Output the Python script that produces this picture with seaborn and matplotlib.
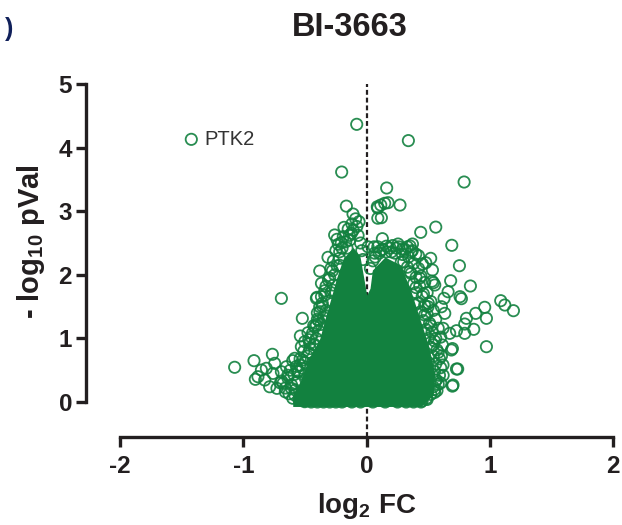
import matplotlib
matplotlib.use("Agg")
import matplotlib.pyplot as plt
import seaborn as sns

sns.set_theme(style="ticks")
plt.rcParams["font.family"] = ["Liberation Sans", "DejaVu Sans"]
plt.rcParams["mathtext.fontset"] = "custom"
plt.rcParams["mathtext.bf"] = "Liberation Sans:bold"
plt.rcParams["mathtext.rm"] = "Liberation Sans:bold"

GREEN = "#12813f"
DARK = "#231f20"

# outline of the overplotted core, where the rings merge into solid colour
core_fc = [-0.60, -0.60, -0.54, -0.47, -0.38, -0.345, -0.29, -0.245, -0.19, -0.11, -0.054, -0.028,
           0.0, 0.027, 0.046, 0.148, 0.275, 0.36, 0.43, 0.50, 0.55, 0.54, 0.44]
core_top = [-0.07, 0.11, 0.319, 0.687, 1.0, 1.263, 1.63, 1.945, 2.26, 2.43, 2.285, 1.997,
            1.682, 1.788, 2.075, 2.28, 2.154, 1.735, 1.316, 0.896, 0.476, 0.11, -0.07]

# single proteins that can still be told apart
log2_fc = [
    -1.4225, -0.081, 0.338, -0.203, 0.79, 0.162, 0.27, 0.173, 0.146, 0.114, 0.086, 0.119,
    -0.165, -0.111, -0.062, 0.56, 0.438, 0.69, 0.127, 0.752, 0.841, 0.681, 1.087, 1.12,
    1.19, 0.957, 0.884, 0.971, 0.971, 0.809, 0.868, 0.795, 0.795, 0.728, 0.673, 0.687,
    0.695, 0.738, 0.728, 0.70, 0.695, 0.66, 0.627, 0.757, 0.768, 0.541, 0.552, 0.53,
    0.533, 0.519, 0.452, 0.479, 0.398, 0.371, 0.351, 0.254, 0.619, 0.614, 0.606, 0.619,
    0.565, 0.551, 0.484, 0.633, 0.497, 0.389, 0.47, 0.606, 0.43, 0.46, 0.50, 0.40,
    0.35, 0.30, 0.42, 0.37, 0.33, 0.29, 0.21, 0.16, 0.11, 0.06, 0.2, 0.24, 0.47, 0.52,
    0.56, 0.58, 0.54, 0.50, 0.62, 0.58, 0.55, 0.47,
    -0.184, -0.26, -0.241, -0.206, -0.124, -0.138, -0.314, -0.381, -0.367, -0.403, -0.367,
    -0.362, -0.278, -0.278, -0.219, 0.011, 0.065, 0.09, 0.09, 0.09, -0.16, -0.22, -0.30,
    -0.33, -0.34, -0.40, -0.43, -0.45, -0.39,
    -0.692, -0.522, -0.538, -0.476, -0.408, -0.408, -0.381, -1.071, -0.914, -0.765, -0.584,
    -0.60, -0.903, -0.882, -0.854, -0.814, -0.746, -0.827, -0.787, -0.728, -0.76, -0.692,
    -0.651, -0.679, -0.611, -0.584, -0.503, -0.543, -0.53, -0.462, -0.503, -0.70, -0.64,
    -0.66, -0.58, -0.56, -0.52, -0.50, -0.47, -0.45, -0.44, -0.42, -0.48, -0.55, -0.50,
    -0.45, -0.40, -0.35, -0.30, -0.25, -0.20, -0.12, -0.05, 0.05, 0.15, 0.25, 0.32, 0.38, 0.44,
]
minus_log10_p = [
    4.13, 4.366, 4.11, 3.616, 3.459, 3.365, 3.097, 3.134, 3.124, 3.097, 3.07, 2.898,
    3.08, 2.956, 2.835, 2.75, 2.668, 2.464, 2.568, 2.143, 1.824, 1.907, 1.593, 1.525,
    1.436, 1.489, 1.394, 1.316, 0.87, 1.316, 1.143, 1.226, 1.08, 1.121, 1.08, 0.818,
    0.84, 0.519, 0.519, 0.267, 0.25, 1.734, 1.63, 1.656, 1.625, 1.876, 1.84, 1.9,
    2.075, 2.259, 2.17, 2.19, 2.327, 2.484, 2.453, 2.484, 1.159, 0.896, 0.723, 0.582,
    0.346, 0.2, 0.058, 1.394, 1.498, 1.525, 1.368, 1.498, 1.95, 1.7, 1.55, 1.8,
    2.05, 2.2, 2.3, 2.38, 2.44, 2.4, 2.46, 2.45, 2.38, 2.44, 2.36, 2.42, 1.08, 1.2,
    1.0, 0.78, 0.9, 0.62, 0.42, 0.28, 0.15, 0.3,
    2.746, 2.626, 2.558, 2.505, 2.652, 2.547, 2.275, 2.06, 1.866, 1.646, 1.656,
    1.51, 2.064, 1.76, 2.363, 2.44, 2.34, 2.44, 3.05, 2.89, 2.42, 2.15, 1.95,
    1.35, 1.75, 1.4, 1.2, 1.02, 1.28,
    1.63, 1.316, 1.038, 1.09, 1.21, 1.63, 1.498, 0.546, 0.65, 0.75, 0.687,
    0.65, 0.357, 0.398, 0.503, 0.53, 0.608, 0.346, 0.24, 0.215, 0.45, 0.476,
    0.555, 0.294, 0.215, 0.11, 0.005, 0.58, 0.87, 0.92, 0.948, 0.3, 0.42,
    0.16, 0.3, 0.48, 0.66, 0.42, 0.78, 0.3, 0.62, 0.9, 0.12, 0.04, 0.02,
    0.0, 0.0, 0.0, 0.0, 0.0, 0.0, 0.0, 0.0, 0.0, 0.0, 0.0, 0.0, 0.0, 0.0,
]

# crowded rim of the core, left flank then right flank
rim_fc = [
    -0.60, -0.63, -0.58, -0.66, -0.61, -0.56, -0.69, -0.64, -0.59, -0.55, -0.62, -0.57, -0.52, -0.50,
    -0.54, -0.48, -0.51, -0.46, -0.43, -0.47, -0.41, -0.44, -0.39, -0.42, -0.37, -0.40, -0.35, -0.38,
    -0.33, -0.36, -0.31, -0.34, -0.29, -0.33, -0.27, -0.31, -0.26, -0.29, -0.24, -0.27, -0.22, -0.25,
    -0.20, -0.23, -0.17, -0.19, -0.14, -0.15, -0.11, -0.12, -0.08, -0.09, -0.07, -0.05, -0.04, -0.03,
    0.03, 0.05, 0.07, 0.10, 0.13, 0.16, 0.19, 0.23, 0.26, 0.29, 0.31, 0.34, 0.36, 0.28,
    0.33, 0.38, 0.42, 0.36, 0.40, 0.44, 0.38, 0.43, 0.47, 0.40, 0.45, 0.49, 0.42, 0.47,
    0.52, 0.44, 0.49, 0.54, 0.46, 0.51, 0.56, 0.48, 0.53, 0.58, 0.50, 0.55, 0.60, 0.52,
    0.57, 0.54, 0.59, 0.56, 0.60, 0.55, 0.59, 0.56, 0.60, 0.54, 0.57, 0.52, 0.49, 0.45,
]
rim_p = [
    0.06, 0.13, 0.19, 0.22, 0.27, 0.33, 0.33, 0.38, 0.43, 0.48, 0.50, 0.56, 0.53, 0.62,
    0.68, 0.72, 0.80, 0.84, 0.90, 0.98, 1.00, 1.08, 1.12, 1.18, 1.22, 1.30, 1.33, 1.42,
    1.44, 1.55, 1.58, 1.68, 1.72, 1.82, 1.84, 1.92, 2.00, 2.10, 2.14, 2.22, 2.26, 2.38,
    2.42, 2.48, 2.52, 2.60, 2.62, 2.72, 2.70, 2.80, 2.76, 2.88, 2.62, 2.50, 2.38, 2.24,
    2.10, 2.22, 2.28, 2.34, 2.40, 2.36, 2.42, 2.34, 2.44, 2.32, 2.40, 2.28, 2.36, 2.20,
    2.12, 2.18, 2.10, 2.02, 1.96, 1.98, 1.86, 1.82, 1.88, 1.72, 1.66, 1.72, 1.56, 1.52,
    1.58, 1.42, 1.38, 1.44, 1.28, 1.24, 1.30, 1.14, 1.10, 1.16, 1.00, 0.96, 1.02, 0.86,
    0.82, 0.72, 0.68, 0.60, 0.54, 0.48, 0.42, 0.34, 0.30, 0.24, 0.18, 0.12, 0.04, 0.02,
]

x_ticks = [-2, -1, 0, 1, 2]
y_ticks = [0, 1, 2, 3, 4, 5]

fig = plt.figure(figsize=(6.22, 5.25), dpi=100)
ax = fig.add_axes([86 / 622, 1 - 437 / 525, 527.3 / 622, 353 / 525])

ax.axvline(0, color=DARK, lw=1.6, ls=(0, (2.2, 1.3)), zorder=1)
ax.fill_between(core_fc, -0.07, core_top, color=GREEN, lw=0, zorder=2)
sns.scatterplot(x=log2_fc + rim_fc, y=minus_log10_p + rim_p, ax=ax, marker="o", s=66,
                facecolors="none", edgecolor=GREEN, linewidth=1.3, alpha=0.9, zorder=3)

ax.set_xlim(-2.2766, 2)
ax.set_ylim(-0.55, 5)
ax.set_xticks(x_ticks)
ax.set_yticks(y_ticks)
ax.set_xticklabels([str(t) for t in x_ticks])
ax.tick_params(axis="both", length=7, width=2.4, color=DARK, labelcolor=DARK, labelsize=17.5)
ax.tick_params(axis="x", pad=6)
ax.tick_params(axis="y", pad=3)
for lab in ax.get_xticklabels() + ax.get_yticklabels():
    lab.set_fontweight("bold")

sns.despine(ax=ax)
ax.spines["left"].set_bounds(0, 5)
ax.spines["bottom"].set_bounds(-2, 2)
for side in ["left", "bottom"]:
    ax.spines[side].set_linewidth(2.4)
    ax.spines[side].set_color(DARK)

ax.text(-1.32, 4.13, "PTK2", fontsize=14.5, color="#333333", va="center", ha="left")

fig.text(350 / 622, 1 - 27 / 525, "BI-3663", fontsize=23.5, fontweight="bold", color=DARK,
         ha="center", va="center")
fig.text(367 / 622, 1 - 506 / 525, r"log$\mathbf{_2}$ FC", fontsize=20, fontweight="bold", color=DARK,
         ha="center", va="center")
fig.text(31 / 622, 1 - 242 / 525, r"- log$\mathbf{_{10}}$ pVal", fontsize=21, fontweight="bold", color=DARK,
         rotation=90, ha="center", va="center")
fig.text(9 / 622, 1 - 29 / 525, ")", fontsize=18, fontweight="bold", color="#10205a",
         ha="center", va="center")

fig.savefig("out.png", dpi=100)
